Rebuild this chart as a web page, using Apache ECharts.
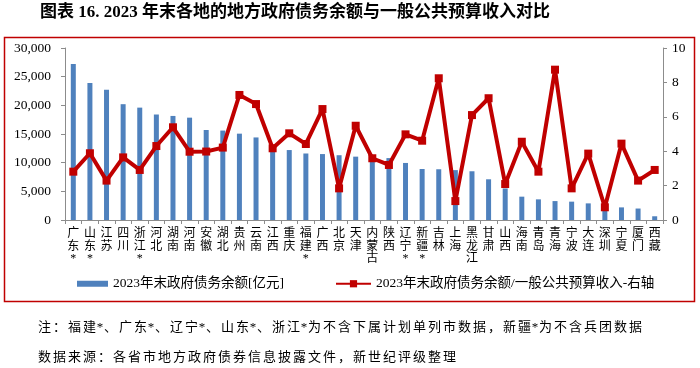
<!DOCTYPE html>
<html>
<head>
<meta charset="utf-8">
<script src="https://cdn.jsdelivr.net/npm/echarts@6/dist/echarts.min.js"></script>
<style>
html,body{margin:0;padding:0;background:#fff;}
#c{width:700px;height:368px;}
</style>
</head>
<body>
<div id="c"></div>
<script>
var categories = ['广东*','山东*','江苏','四川','浙江*','河北','湖南','河南','安徽','湖北','贵州','云南','江西','重庆','福建*','广西','北京','天津','内蒙古','陕西','辽宁*','新疆*','吉林','上海','黑龙江','甘肃','山西','海南','青岛','青海','宁波','大连','深圳','宁夏','厦门','西藏'];
var debt = [27200,23900,22700,20200,19600,18400,18150,17850,15700,15600,15060,14400,12500,12200,11600,11500,11300,11050,10900,10800,9950,8900,8850,8700,8500,7100,5500,4070,3600,3300,3200,2900,2500,2200,2000,650];
var ratio = [2.81,3.88,2.29,3.64,2.91,4.30,5.39,3.97,3.98,4.21,7.27,6.74,4.17,5.04,4.42,6.45,1.84,5.48,3.59,3.20,4.98,4.61,8.24,1.10,6.10,7.08,2.09,4.55,2.81,8.74,1.84,3.86,0.74,4.44,2.29,2.91];
var leftTicks = {min:0, max:30000, interval:5000};
var rightTicks = {min:0, max:10, interval:2};
var seriesNames = ['2023年末政府债务余额[亿元]', '2023年末政府债务余额/一般公共预算收入-右轴'];
var titleText = '图表 16. 2023 年末各地的地方政府债务余额与一般公共预算收入对比';
var noteText = '注：福建*、广东*、辽宁*、山东*、浙江*为不含下属计划单列市数据，新疆*为不含兵团数据';
var sourceText = '数据来源：各省市地方政府债券信息披露文件，新世纪评级整理';

var FONT = '"Liberation Serif","Noto Sans CJK SC",serif';
function spaced(t){ return t.split('').map(function(ch){ return (ch === '*' ? '{a|' : '{c|') + ch + '}'; }).join(''); }

var chart = echarts.init(document.getElementById('c'), null, {renderer:'canvas'});
var option = {
  animation: false,
  backgroundColor: '#fff',
  grid: {left: 65, right: 37, top: 48, bottom: 148, containLabel: false},
  legend: [
    {data: [seriesNames[0]], left: 77, top: 277, padding: 0, itemGap: 0, itemWidth: 31, itemHeight: 6, icon: 'rect',
     textStyle: {fontFamily: FONT, fontSize: 13.5, color: '#000'}},
    {data: [seriesNames[1]], left: 335, top: 277, padding: 0, itemGap: 0, itemWidth: 35, itemHeight: 9,
     textStyle: {fontFamily: FONT, fontSize: 13.5, color: '#000'}}
  ],
  xAxis: {
    type: 'category', data: categories,
    axisLine: {lineStyle: {color: '#8c8c8c'}},
    axisTick: {show: true, interval: 0, length: 4, lineStyle: {color: '#8c8c8c'}},
    axisLabel: {interval: 0, margin: 8, fontFamily: FONT, fontSize: 12, lineHeight: 12.5, color: '#000',
      formatter: function(v){ return v.split('').join('\n'); }}
  },
  yAxis: [
    {type: 'value', min: leftTicks.min, max: leftTicks.max, interval: leftTicks.interval,
     splitLine: {show: false},
     axisLine: {show: true, lineStyle: {color: '#8c8c8c'}},
     axisTick: {show: true, length: 4, lineStyle: {color: '#8c8c8c'}},
     axisLabel: {margin: 14, fontFamily: FONT, fontSize: 13.5, color: '#000',
       formatter: function(v){ return v.toLocaleString('en-US'); }}},
    {type: 'value', min: rightTicks.min, max: rightTicks.max, interval: rightTicks.interval,
     position: 'right', splitLine: {show: false},
     axisLine: {show: true, lineStyle: {color: '#8c8c8c'}},
     axisTick: {show: true, length: 4, lineStyle: {color: '#8c8c8c'}},
     axisLabel: {margin: 9, fontFamily: FONT, fontSize: 13.5, color: '#000'}}
  ],
  series: [
    {name: seriesNames[0], type: 'bar', data: debt, barWidth: 5, itemStyle: {color: '#4f81bd'}, z: 1},
    {name: seriesNames[1], type: 'line', yAxisIndex: 1, data: ratio,
     symbol: 'rect', symbolSize: 8, lineStyle: {color: '#c00000', width: 4},
     itemStyle: {color: '#c00000'}, z: 3}
  ],
  graphic: [
    {type: 'rect', shape: {x: 4.5, y: 37.5, width: 690, height: 264}, style: {fill: null, stroke: '#a6a6a6', lineWidth: 1}, silent: true, z: -1},
    {type: 'text', left: 40, top: 4, style: {text: titleText, font: 'bold 17px ' + FONT, fill: '#000'}},
    {type: 'text', left: 38, top: 321, style: {text: spaced(noteText), rich: {
      c: {width: 15, align: 'center', fontSize: 13, fontFamily: FONT, fill: '#000'},
      a: {width: 6, align: 'left', fontSize: 13, fontFamily: FONT, fill: '#000'}}}},
    {type: 'text', left: 38, top: 351, style: {text: spaced(sourceText), rich: {
      c: {width: 15, align: 'center', fontSize: 13, fontFamily: FONT, fill: '#000'}}}}
  ]
};
chart.setOption(option);
var px = chart.convertToPixel({xAxisIndex: 0}, '内蒙古');
var y0 = chart.convertToPixel({yAxisIndex: 0}, 0);
chart.setOption({graphic: [
  {type: 'ellipse', shape: {cx: px, cy: y0 + 31, rx: 6.5, ry: 20.5}, style: {fill: null, stroke: '#c00000', lineWidth: 1.5}, silent: true}
]});
</script>
</body>
</html>
